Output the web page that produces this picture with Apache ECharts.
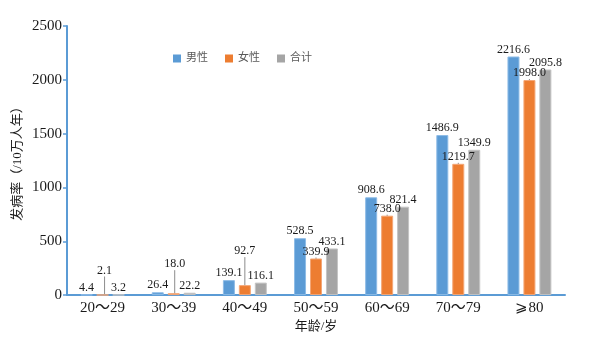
<!DOCTYPE html>
<html>
<head>
<meta charset="utf-8">
<script src="https://cdn.jsdelivr.net/npm/echarts@6/dist/echarts.min.js"></script>
<style>html,body{margin:0;padding:0;background:#fff}#c{width:593px;height:338px}</style>
</head>
<body>
<div id="c"></div>
<script>
var categories = ['20～29', '30～39', '40～49', '50～59', '60～69', '70～79', '⩾80'];
var male = [4.4, 26.4, 139.1, 528.5, 908.6, 1486.9, 2216.6];
var female = [2.1, 18.0, 92.7, 339.9, 738.0, 1219.7, 1998.0];
var total = [3.2, 22.2, 116.1, 433.1, 821.4, 1349.9, 2095.8];
var seriesNames = ['男性', '女性', '合计'];
var yTicks = [0, 500, 1000, 1500, 2000, 2500];

var serif = '"Liberation Serif", "Times New Roman", "DejaVu Serif", "Noto Sans CJK SC", serif';
var cjk = '"Liberation Serif", "Noto Sans CJK SC", serif';
var colors = ['#5B9BD5', '#ED7D31', '#A5A5A5'];
var borders = ['#8DBBE6', '#F4A777', '#C4C4C4'];
// manual label lifts for the small female values (label offset only)
var femaleLift = { 0: [2, -17], 1: [1, -22], 2: [0, -27] };

function mk(i, data) {
  var s = {
    name: seriesNames[i],
    type: 'bar',
    data: data,
    barWidth: 12,
    barGap: '33%',
    itemStyle: { color: colors[i], borderColor: borders[i], borderWidth: 1 },
    label: {
      show: true, position: 'top', distance: 1,
      fontFamily: serif, fontSize: 12, color: '#1a1a1a',
      formatter: function (p) { return p.value.toFixed(1); }
    }
  };
  if (i === 1) {
    s.labelLine = { show: true, lineStyle: { color: '#8c8c8c', width: 1 } };
    s.labelLayout = function (p) {
      var o = femaleLift[p.dataIndex];
      if (o) return { dx: o[0], dy: o[1] };
      return {};
    };
  }
  return s;
}

var chart = echarts.init(document.getElementById('c'));
chart.setOption({
  animation: false,
  backgroundColor: '#fff',
  color: colors,
  legend: {
    data: seriesNames,
    left: 168, top: 48,
    itemWidth: 8, itemHeight: 8, itemGap: 17,
    icon: 'rect',
    itemStyle: { borderWidth: 0 },
    textStyle: { fontFamily: cjk, fontSize: 11, color: '#595959' }
  },
  grid: { left: 67, right: 28, top: 26, bottom: 42, containLabel: false },
  xAxis: {
    type: 'category',
    data: categories,
    name: '年龄/岁',
    nameLocation: 'middle',
    nameGap: 22,
    nameTextStyle: { fontFamily: cjk, fontSize: 13, color: '#1a1a1a' },
    axisLine: { lineStyle: { color: '#5B9BD5', width: 2 } },
    axisTick: { show: false },
    axisLabel: { fontFamily: serif, fontSize: 15, color: '#1a1a1a', margin: 5 }
  },
  yAxis: {
    type: 'value',
    min: yTicks[0], max: yTicks[yTicks.length - 1], interval: 500,
    name: '发病率（/10万人年）',
    nameLocation: 'middle',
    nameGap: 43,
    nameMoveOverlap: false,
    nameRotate: 90,
    nameTextStyle: { fontFamily: cjk, fontSize: 13, color: '#1a1a1a' },
    axisLine: { show: true, lineStyle: { color: '#5B9BD5', width: 2 } },
    axisTick: { show: true, length: 4, lineStyle: { color: '#5B9BD5', width: 1.5 } },
    splitLine: { show: false },
    axisLabel: {
      fontFamily: serif, fontSize: 15, color: '#1a1a1a', margin: 5,
      formatter: function (v) { return String(v); }
    }
  },
  series: [mk(0, male), mk(1, female), mk(2, total)]
});
</script>
</body>
</html>
